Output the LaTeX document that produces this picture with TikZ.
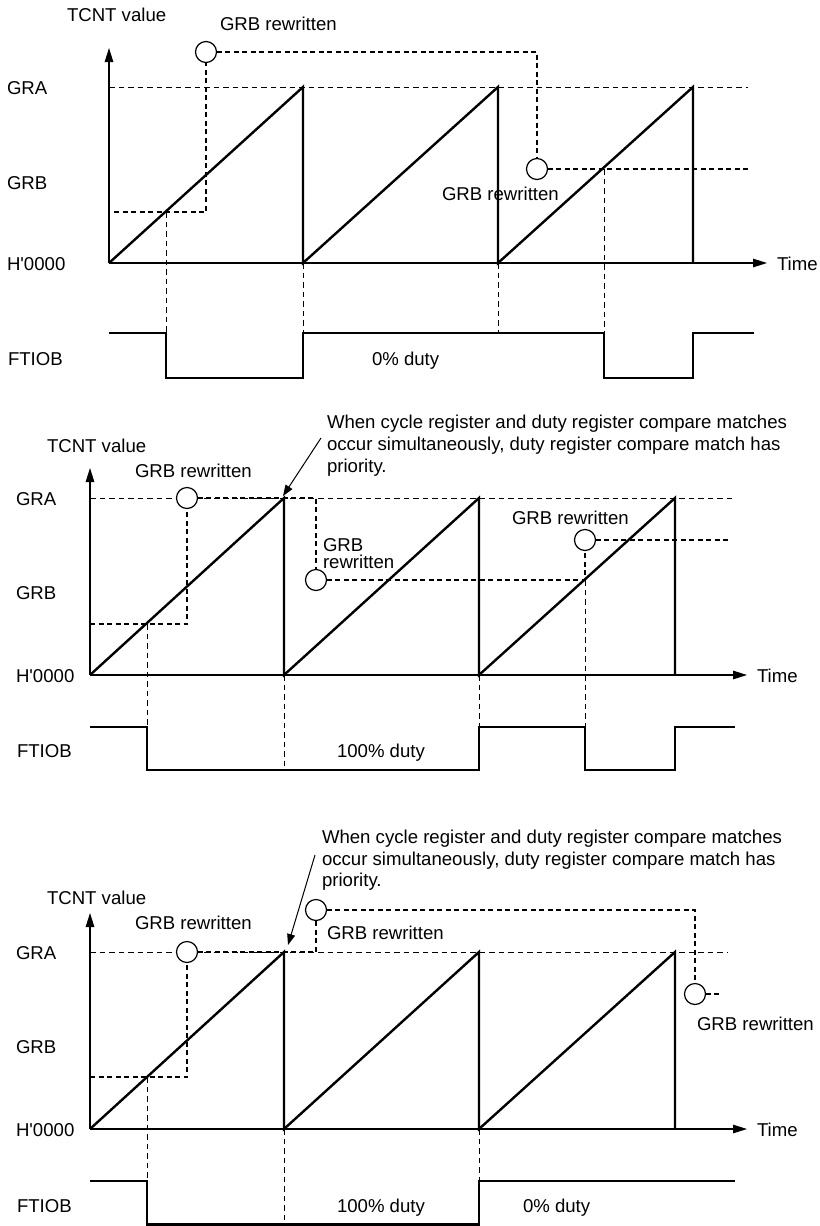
\documentclass[tikz,border=0pt]{standalone}
\usepackage{fontspec}
\setmainfont{Liberation Sans}
\usetikzlibrary{arrows.meta}
\begin{document}
\begin{tikzpicture}[x=1bp,y=-1bp,
  every node/.style={inner sep=0pt, outer sep=0pt},
  lbl/.style={anchor=base west, font=\fontsize{18.6bp}{22bp}\selectfont, text=black},
  ramp/.style={line width=2.4bp, line join=miter},
  sig/.style={line width=2.2bp, line join=miter},
  axisline/.style={line width=1.3bp, -{Triangle[length=14bp,width=8.5bp]}},
  guide/.style={line width=1bp, dash pattern=on 5.5bp off 4bp},
  grbline/.style={line width=2.4bp, dash pattern=on 5bp off 3.5bp},
  ring/.style={circle, draw, line width=1.2bp, minimum size=21bp, fill=white},
  callout/.style={line width=1bp, -{Triangle[length=11bp,width=8bp]}}
]
\useasboundingbox (0,0) rectangle (820,1226);

%================ Panel 1 ================
\node[lbl] (p1tcnt) at (67,21) {TCNT value};
\node[lbl] (p1gra) at (7,94) {GRA};
\node[lbl] (p1grb) at (7,189) {GRB};
\node[lbl] (p1zero) at (7,270) {H\textquotesingle 0000};
\node[lbl] (p1ftiob) at (8,365) {FTIOB};
\node[lbl] (p1time) at (777,270) {Time};
\node[lbl] (p1duty) at (372,365) {0\% duty};
\node[lbl] (p1rw1) at (220,30) {GRB rewritten};
\node[lbl] (p1rw2) at (442,200) {GRB rewritten};

\draw[guide] (109,87) -- (748,87);
\draw[guide] (166,212) -- (166,333);
\draw[guide] (303,263) -- (303,333);
\draw[guide] (498,263) -- (498,333);
\draw[guide] (604,169) -- (604,333);

\draw[axisline] (109,263) -- (109,48);
\draw[axisline] (109,263) -- (767,263);

\draw[ramp] (109,263) -- (303,87) -- (303,263) -- (498,87) -- (498,263) -- (693,87) -- (693,263);

\node[ring] (p1c1) at (206,52) {};
\node[ring] (p1c2) at (537,169) {};
\draw[grbline] (114,212) -- (206,212) -- (p1c1.south);
\draw[grbline] (p1c1.east) -- (537,52) -- (p1c2.north);
\draw[grbline] (p1c2.east) -- (748,169);

\draw[sig] (109,333) -- (166,333) -- (166,378) -- (303,378) -- (303,333) -- (604,333) -- (604,378) -- (693,378) -- (693,333) -- (754,333);

%================ Panel 2 ================
\node[lbl] (p2a1) at (327,428) {When cycle register and duty register compare matches};
\node[lbl] (p2a2) at (327,450) {occur simultaneously, duty register compare match has};
\node[lbl] (p2a3) at (327,472) {priority.};
\node[lbl] (p2tcnt) at (47,452) {TCNT value};
\node[lbl] (p2gra) at (16,505) {GRA};
\node[lbl] (p2grb) at (16,599) {GRB};
\node[lbl] (p2zero) at (16,682) {H\textquotesingle 0000};
\node[lbl] (p2ftiob) at (17,757) {FTIOB};
\node[lbl] (p2time) at (757,682) {Time};
\node[lbl] (p2duty) at (337,757) {100\% duty};
\node[lbl] (p2rw1) at (135,477) {GRB rewritten};
\node[lbl] (p2rw2a) at (323,551) {GRB};
\node[lbl] (p2rw2b) at (323,568) {rewritten};
\node[lbl] (p2rw3) at (512,524) {GRB rewritten};

\draw[guide] (90,498) -- (732,498);
\draw[guide] (147,624) -- (147,727);
\draw[guide] (284,675) -- (284,766);
\draw[guide] (479,675) -- (479,727);
\draw[guide] (585,580) -- (585,727);

\draw[axisline] (90,675) -- (90,468);
\draw[axisline] (90,675) -- (747,675);

\draw[ramp] (90,675) -- (284,498) -- (284,675) -- (479,498) -- (479,675) -- (675,498) -- (675,675);

\node[ring] (p2c1) at (187,498) {};
\node[ring] (p2c2) at (316,580) {};
\node[ring] (p2c3) at (585,540) {};
\draw[grbline] (90,624) -- (187,624) -- (p2c1.south);
\draw[grbline] (p2c1.east) -- (316,498) -- (p2c2.north);
\draw[grbline] (p2c2.east) -- (585,580) -- (p2c3.south);
\draw[grbline] (p2c3.east) -- (728,540);

\coordinate (p2from) at (321,438);
\coordinate (p2to) at (283,496);
\draw[callout] (p2from) -- (p2to);

\draw[sig] (90,727) -- (147,727) -- (147,770) -- (479,770) -- (479,727) -- (585,727) -- (585,770) -- (675,770) -- (675,727) -- (735,727);

%================ Panel 3 ================
\node[lbl] (p3a1) at (322,843.5) {When cycle register and duty register compare matches};
\node[lbl] (p3a2) at (322,865) {occur simultaneously, duty register compare match has};
\node[lbl] (p3a3) at (322,886.5) {priority.};
\node[lbl] (p3tcnt) at (47,904) {TCNT value};
\node[lbl] (p3gra) at (16,959) {GRA};
\node[lbl] (p3grb) at (16,1053) {GRB};
\node[lbl] (p3zero) at (16,1136) {H\textquotesingle 0000};
\node[lbl] (p3ftiob) at (17,1212) {FTIOB};
\node[lbl] (p3time) at (757,1136) {Time};
\node[lbl] (p3duty1) at (337,1212) {100\% duty};
\node[lbl] (p3duty2) at (523,1212) {0\% duty};
\node[lbl] (p3rw1) at (135,929) {GRB rewritten};
\node[lbl] (p3rw2) at (327,939) {GRB rewritten};
\node[lbl] (p3rw3) at (697,1030) {GRB rewritten};

\draw[guide] (90,952) -- (728,952);
\draw[guide] (147,1077) -- (147,1181);
\draw[guide] (284,1129) -- (284,1222);
\draw[guide] (479,1129) -- (479,1181);

\draw[axisline] (90,1129) -- (90,913);
\draw[axisline] (90,1129) -- (747,1129);

\draw[ramp] (90,1129) -- (284,952) -- (284,1129) -- (479,952) -- (479,1129) -- (675,952) -- (675,1129);

\node[ring] (p3c1) at (187,952) {};
\node[ring] (p3c2) at (316,910) {};
\node[ring] (p3c3) at (695,994) {};
\draw[grbline] (90,1077) -- (187,1077) -- (p3c1.south);
\draw[grbline] (p3c1.east) -- (316,952) -- (p3c2.south);
\draw[grbline] (p3c2.east) -- (695,910) -- (p3c3.north);
\draw[grbline] (p3c3.east) -- (720,994);

\coordinate (p3from) at (315,855);
\coordinate (p3to) at (288,945);
\draw[callout] (p3from) -- (p3to);

\draw[sig] (90,1181) -- (147,1181) -- (147,1224.5) -- (479,1224.5) -- (479,1181) -- (735,1181);
\end{tikzpicture}
\end{document}
